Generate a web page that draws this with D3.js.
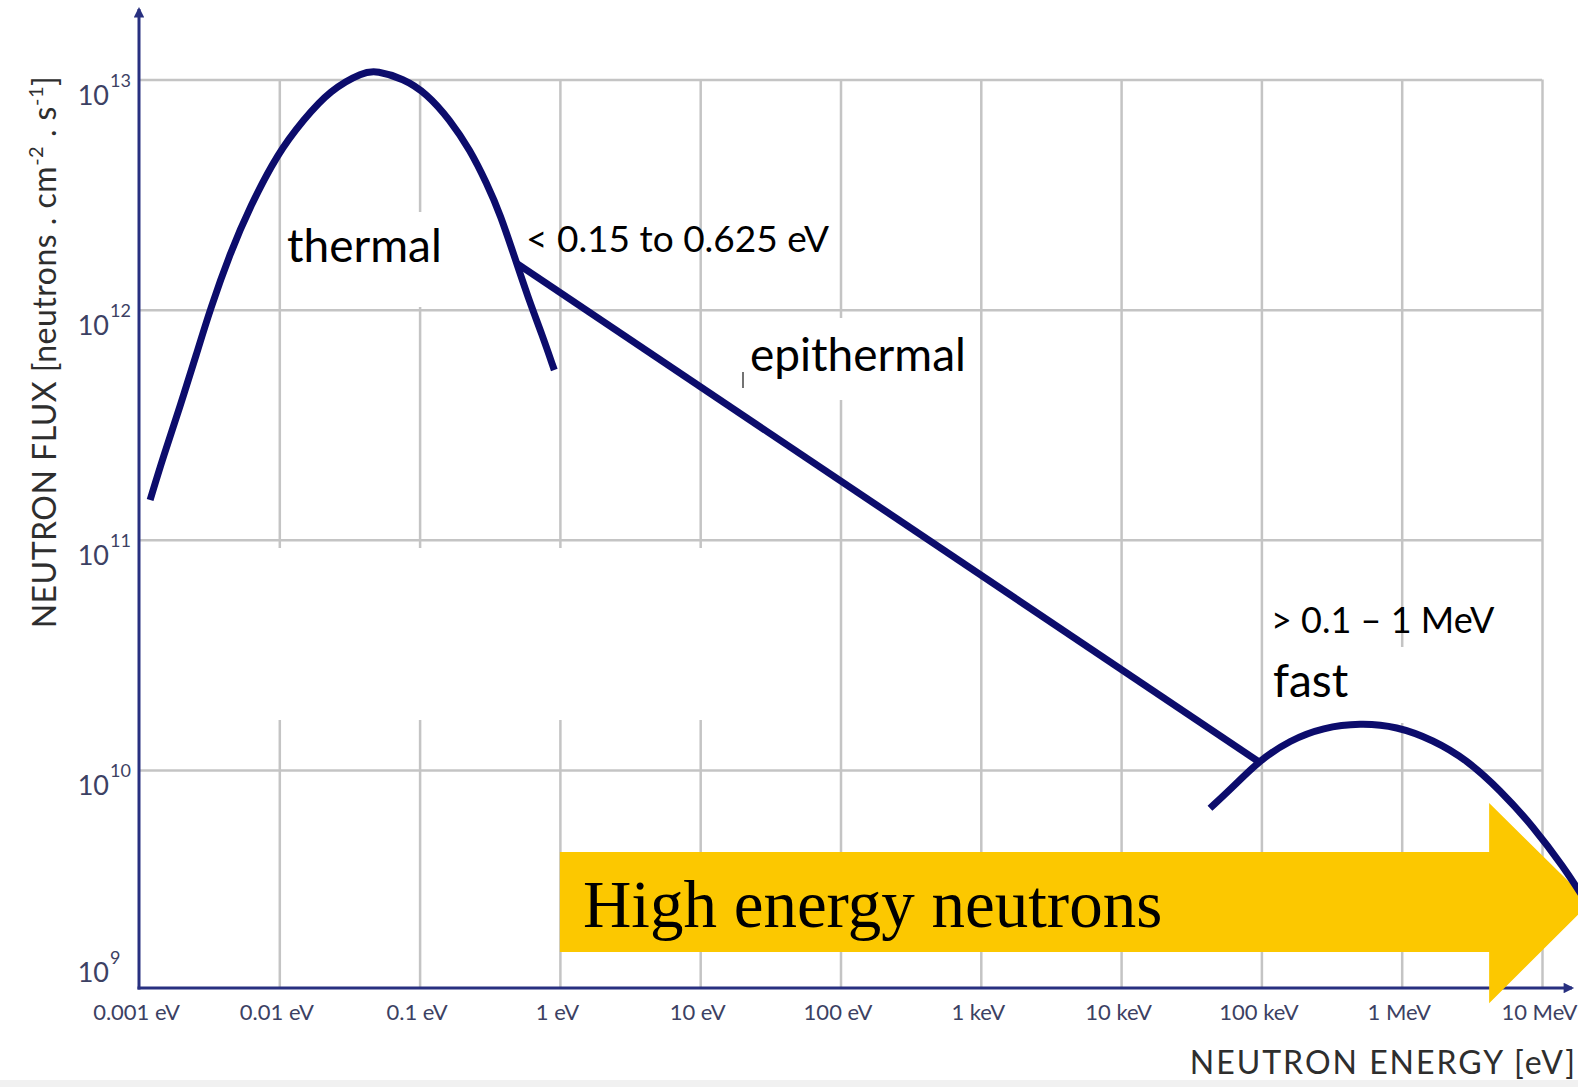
<!DOCTYPE html>
<html>
<head>
<meta charset="utf-8">
<script src="https://cdn.jsdelivr.net/npm/d3@7"></script>
<style>
    html, body { margin: 0; padding: 0; background: #ffffff; }
    svg { display: block; }
</style>
</head>
<body>
<svg id="chart" width="1578" height="1087"></svg>
<script>
// Neutron flux spectrum: thermal, epithermal and fast regions

// Energy axis ticks (eV)
const energyTicks = [1e-3, 1e-2, 1e-1, 1, 10, 100, 1e3, 1e4, 1e5, 1e6, 1e7];
const energyTickLabels = ['0.001 eV', '0.01 eV', '0.1 eV', '1 eV', '10 eV', '100 eV',
    '1 keV', '10 keV', '100 keV', '1 MeV', '10 MeV'];

// Flux axis ticks
const fluxTicks = [1e9, 1e10, 1e11, 1e12, 1e13];
const fluxTickExponents = ['9', '10', '11', '12', '13'];

// Thermal (maxwellian) hump
const thermalEnergy = [0.0012, 0.00149, 0.00196, 0.00258, 0.00321, 0.00446, 0.00618, 0.00975,
    0.0148, 0.0230, 0.0397, 0.0494, 0.0766, 0.112, 0.165, 0.229, 0.301, 0.374, 0.492, 0.612, 0.741, 0.912];
const thermalFlux = [1.49e11, 2.30e11, 3.79e11, 6.47e11, 1.00e12, 1.76e12, 2.80e12, 4.78e12,
    6.67e12, 9.0e12, 1.08e13, 1.09e13, 1.01e13, 8.71e12, 6.67e12, 4.94e12, 3.54e12, 2.62e12,
    1.59e12, 1.07e12, 7.89e11, 5.47e11];

// Epithermal slowing down line
const epithermalEnergy = [0.492, 9.5e4];
const epithermalFlux = [1.59e12, 1.09e10];

// Fast (fission) hump
const fastEnergy = [4.30e4, 6.31e4, 9.51e4, 1.60e5, 2.76e5, 5.05e5, 9.21e5, 1.68e6, 2.90e6,
    5.01e6, 8.67e6, 1.42e7, 2.02e7];
const fastFlux = [6.82e9, 8.47e9, 1.09e10, 1.35e10, 1.53e10, 1.60e10, 1.55e10, 1.35e10, 1.11e10,
    8.20e9, 5.68e9, 3.80e9, 2.73e9];

// "High energy neutrons" arrow, in data units
const arrowEnergy = [1, 4.2e6, 2.2e7];                     // tail, head base, tip
const arrowFlux = [7.2e9, 4.4e9, 2.65e9, 1.62e9, 9.7e8];   // head top, body top, tip, body bottom, head bottom


class FluxChart {

    constructor(svgId) {

        this.svg = d3.select(svgId);

        this.axisColor = '#283080';
        this.curveColor = '#0c0c6c';
        this.gridColor = '#c4c4c4';
        this.labelColor = '#3c4163';
        this.titleColor = '#2e2e2e';

        // flux at which the energy axis sits (slightly above 10^9)
        this.fluxFloor = 1.13e9;

        this.x = d3.scaleLog()
            .domain([1e-3, 1e7])
            .range([139, 1542]);

        this.y = d3.scaleLog()
            .domain([this.fluxFloor, 1e13])
            .range([988, 79.5]);

        this.x0 = this.x(1e-3);
        this.axisY = this.y(this.fluxFloor);
    }

    draw() {
        this.drawBackground();
        this.drawGrid();
        this.drawPatches();
        this.drawAxes();
        this.drawArrow();
        this.drawCurves();
        this.drawAnnotations();
    }

    drawBackground() {
        this.svg.append('rect')
            .attr('width', 1578).attr('height', 1087)
            .attr('fill', '#ffffff');
        // light strip along the bottom of the picture
        this.svg.append('rect')
            .attr('x', 0).attr('y', 1080)
            .attr('width', 1578).attr('height', 7)
            .attr('fill', '#f1f1f1');
    }

    /* Grid made from the axes with long ticks */
    drawGrid() {

        const gridTop = this.y(1e13);

        const vGrid = this.svg.append('g')
            .attr('transform', `translate(0,${this.axisY})`)
            .call(d3.axisBottom(this.x)
                .tickValues(energyTicks.slice(1))
                .tickSize(-(this.axisY - gridTop))
                .tickFormat('')
            );
        vGrid.select('.domain').remove();
        vGrid.selectAll('line')
            .attr('stroke', this.gridColor)
            .attr('stroke-width', 2.5);

        const hGrid = this.svg.append('g')
            .attr('transform', `translate(${this.x0},0)`)
            .call(d3.axisLeft(this.y)
                .tickValues(fluxTicks.slice(1))
                .tickSize(-(this.x(1e7) - this.x0))
                .tickFormat('')
            );
        hGrid.select('.domain').remove();
        hGrid.selectAll('line')
            .attr('stroke', this.gridColor)
            .attr('stroke-width', 2.5);
    }

    // white text boxes pasted over the grid
    drawPatches() {
        const patches = [
            [285, 212, 210, 95],
            [740, 318, 238, 82],
            [1266, 647, 273, 76],
            [151, 548, 574, 172],
        ];
        this.svg.append('g')
            .selectAll('rect')
            .data(patches)
            .join('rect')
            .attr('x', d => d[0])
            .attr('y', d => d[1])
            .attr('width', d => d[2])
            .attr('height', d => d[3])
            .attr('fill', '#ffffff');
    }

    drawAxes() {

        const defs = this.svg.append('defs');
        defs.append('marker')
            .attr('id', 'axisArrow')
            .attr('viewBox', '0 0 10 10')
            .attr('refX', 8)
            .attr('refY', 5)
            .attr('markerWidth', 4.5)
            .attr('markerHeight', 3.5)
            .attr('orient', 'auto')
            .append('path')
            .attr('d', 'M0,0 L10,5 L0,10 z')
            .attr('fill', this.axisColor);

        // energy axis line
        this.svg.append('line')
            .attr('x1', this.x0 - 1.5).attr('y1', this.axisY)
            .attr('x2', 1572).attr('y2', this.axisY)
            .attr('stroke', this.axisColor)
            .attr('stroke-width', 3)
            .attr('marker-end', 'url(#axisArrow)');

        // flux axis line
        this.svg.append('line')
            .attr('x1', this.x0).attr('y1', this.axisY + 1.5)
            .attr('x2', this.x0).attr('y2', 9)
            .attr('stroke', this.axisColor)
            .attr('stroke-width', 3)
            .attr('marker-end', 'url(#axisArrow)');

        /* Energy tick labels */
        const xAxis = this.svg.append('g')
            .attr('transform', `translate(0,${this.axisY})`)
            .call(d3.axisBottom(this.x)
                .tickValues(energyTicks)
                .tickFormat((d, i) => energyTickLabels[i])
                .tickSize(0)
            );
        xAxis.select('.domain').remove();
        xAxis.selectAll('text')
            .attr('y', 32)
            .attr('dy', null)
            .attr('dx', -3)
            .attr('font-family', 'Lato, sans-serif')
            .attr('font-size', 22)
            .attr('fill', this.labelColor);
        // last label pushed against the right edge
        xAxis.selectAll('text')
            .filter(d => d === energyTicks[energyTicks.length - 1])
            .attr('text-anchor', 'end')
            .attr('dx', 1577 - this.x(1e7));

        /* Flux tick labels, 10 with exponent */
        const labelBase = d => Math.min(this.y(d) + 25, this.axisY - 6);
        const yLabels = this.svg.append('g')
            .attr('font-family', 'Lato, sans-serif')
            .attr('fill', this.labelColor);

        yLabels.selectAll('text.base')
            .data(fluxTicks)
            .join('text')
            .attr('class', 'base')
            .attr('x', 109)
            .attr('y', labelBase)
            .attr('text-anchor', 'end')
            .attr('font-size', 27)
            .text('10');

        yLabels.selectAll('text.exp')
            .data(fluxTicks)
            .join('text')
            .attr('class', 'exp')
            .attr('x', 110)
            .attr('y', d => labelBase(d) - 18)
            .attr('font-size', 18)
            .text((d, i) => fluxTickExponents[i]);

        /* Axis titles */
        const yTitle = this.svg.append('text')
            .attr('transform', 'translate(56,352) rotate(-90)')
            .attr('text-anchor', 'middle')
            .attr('font-family', 'Lato, sans-serif')
            .attr('font-size', 32)
            .attr('letter-spacing', 0.5)
            .attr('fill', this.titleColor);
        yTitle.append('tspan').text('NEUTRON FLUX [neutrons . cm');
        yTitle.append('tspan').attr('dy', -13).attr('font-size', 20).text('-2');
        yTitle.append('tspan').attr('dy', 13).text(' . s');
        yTitle.append('tspan').attr('dy', -13).attr('font-size', 20).text('-1');
        yTitle.append('tspan').attr('dy', 13).text(']');

        this.svg.append('text')
            .attr('x', 1577)
            .attr('y', 1074)
            .attr('text-anchor', 'end')
            .attr('font-family', 'Lato, sans-serif')
            .attr('font-size', 32)
            .attr('letter-spacing', 2)
            .attr('fill', this.titleColor)
            .text('NEUTRON ENERGY [eV]');
    }

    drawArrow() {
        const x = this.x, y = this.y;
        const pts = [
            [x(arrowEnergy[0]), y(arrowFlux[1])],
            [x(arrowEnergy[1]), y(arrowFlux[1])],
            [x(arrowEnergy[1]), y(arrowFlux[0])],
            [x(arrowEnergy[2]), y(arrowFlux[2])],
            [x(arrowEnergy[1]), y(arrowFlux[4])],
            [x(arrowEnergy[1]), y(arrowFlux[3])],
            [x(arrowEnergy[0]), y(arrowFlux[3])],
        ];
        this.svg.append('polygon')
            .attr('points', pts.map(p => p.join(',')).join(' '))
            .attr('fill', '#fcc800');

        this.svg.append('text')
            .attr('x', x(arrowEnergy[0]) + 23)
            .attr('y', 927)
            .attr('font-family', '"Liberation Serif", "Times New Roman", serif')
            .attr('font-size', 67)
            .attr('fill', '#000000')
            .text('High energy neutrons');
    }

    drawCurves() {

        // smooth spline for the humps, straight segment for the epithermal part
        const smooth = d3.line()
            .x(d => this.x(d[0]))
            .y(d => this.y(d[1]))
            .curve(d3.curveBasis);

        const series = [
            d3.zip(thermalEnergy, thermalFlux),
            d3.zip(epithermalEnergy, epithermalFlux),
            d3.zip(fastEnergy, fastFlux),
        ];

        this.svg.append('g')
            .selectAll('path')
            .data(series)
            .join('path')
            .attr('d', smooth)
            .attr('fill', 'none')
            .attr('stroke', this.curveColor)
            .attr('stroke-width', 7)
            .attr('stroke-linejoin', 'round');
    }

    drawAnnotations() {

        const notes = [
            { text: 'thermal', x: 287, y: 262, size: 46 },
            { text: '< 0.15 to 0.625 eV', x: 526, y: 252, size: 37 },
            { text: 'epithermal', x: 750, y: 371, size: 46 },
            { text: '> 0.1 \u2013 1 MeV', x: 1271, y: 633, size: 36 },
            { text: 'fast', x: 1273, y: 697, size: 46 },
        ];

        this.svg.append('g')
            .selectAll('text')
            .data(notes)
            .join('text')
            .attr('x', d => d.x)
            .attr('y', d => d.y)
            .attr('font-family', 'Lato, sans-serif')
            .attr('font-size', d => d.size)
            .attr('fill', '#000000')
            .text(d => d.text);

        // stray cursor mark next to "epithermal"
        this.svg.append('line')
            .attr('x1', 743).attr('y1', 372)
            .attr('x2', 743).attr('y2', 388)
            .attr('stroke', '#444444')
            .attr('stroke-width', 1.5);
    }
}

const chart = new FluxChart('#chart');
chart.draw();
</script>
</body>
</html>
